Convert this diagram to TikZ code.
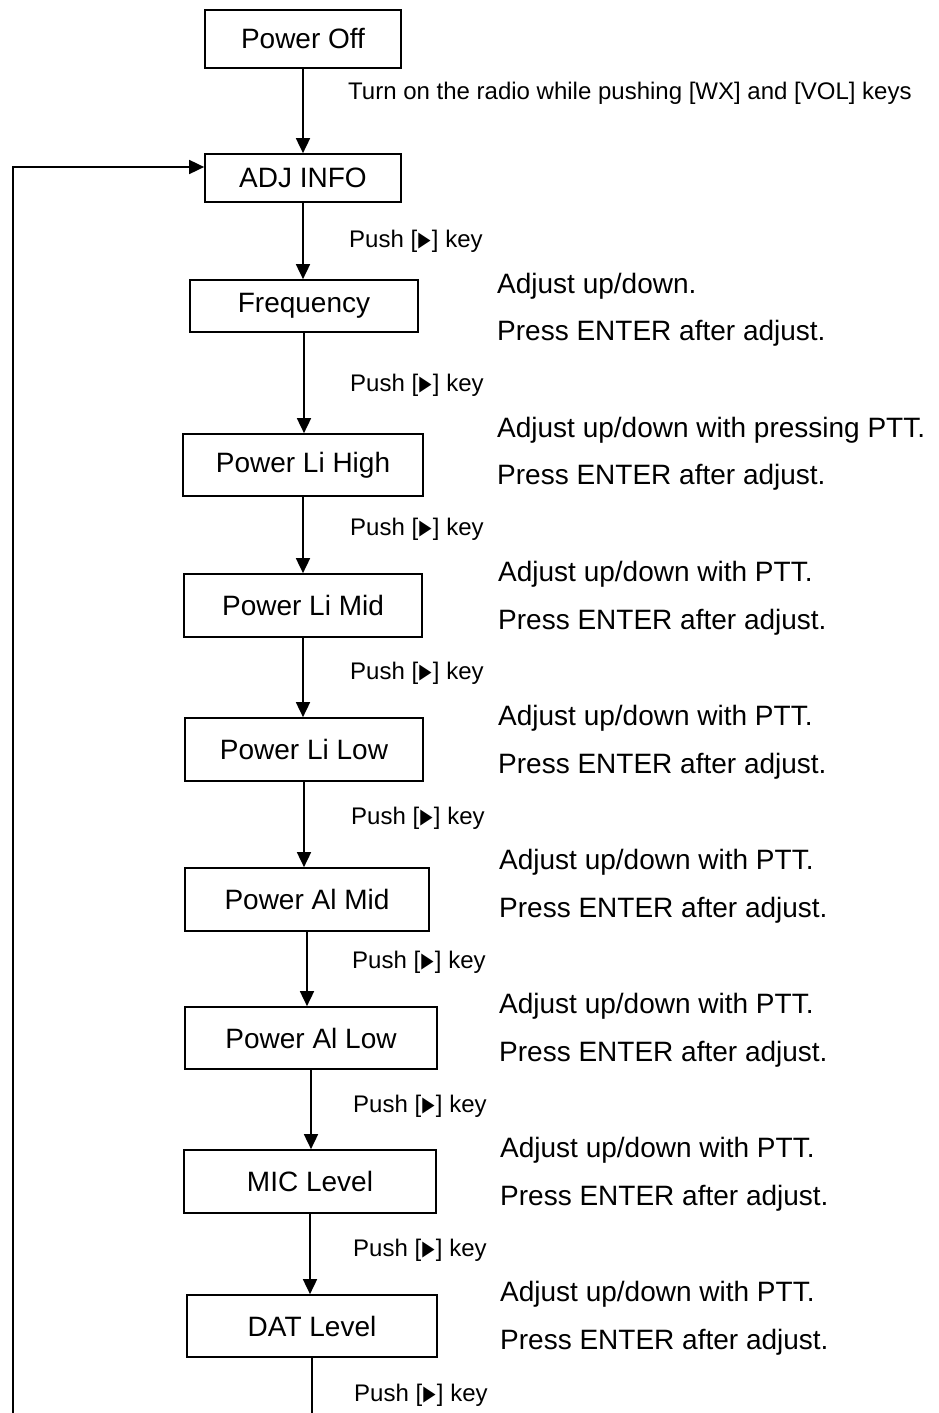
\documentclass[tikz,border=0pt]{standalone}
\usepackage{fontspec}
\setmainfont{Liberation Sans}
\newfontfamily\symfont{DejaVu Sans}
\usetikzlibrary{arrows.meta}
\newcommand{\keytri}{\hspace{1.2pt}\raisebox{0.5pt}{\scalebox{0.8}[1.05]{\symfont\fontsize{20}{20}\selectfont ▶}}\hspace{1.2pt}}
\begin{document}
\begin{tikzpicture}[x=1pt,y=-1pt,
  box/.style={draw, line width=1.7pt, inner sep=0pt, font=\fontsize{28}{30}\selectfont},
  arr/.style={line width=1.7pt, -{Triangle[width=14pt,length=15pt]}},
  ln/.style={line width=1.7pt},
  lbl/.style={anchor=west, inner sep=0pt, font=\fontsize{24}{26}\selectfont},
  side/.style={anchor=west, inner sep=0pt, font=\fontsize{28}{30}\selectfont}]
\useasboundingbox (0,0) rectangle (938,1413);

% boxes
\node[box, minimum width=196pt, minimum height=58pt] (off) at (303,39) {Power Off};
\node[box, minimum width=196pt, minimum height=48pt] (adj) at (303,178) {ADJ INFO};
\node[box, minimum width=228pt, minimum height=52pt] (freq) at (304,306) {Frequency};
\node[box, minimum width=240pt, minimum height=62pt] (plh) at (303,465) {Power Li High};
\node[box, minimum width=238pt, minimum height=63pt] (plm) at (303,605.5) {Power Li Mid};
\node[box, minimum width=238pt, minimum height=63pt] (pll) at (304,749.5) {Power Li Low};
\node[box, minimum width=244pt, minimum height=63pt] (pam) at (307,899.5) {Power Al Mid};
\node[box, minimum width=252pt, minimum height=62pt] (pal) at (311,1038) {Power Al Low};
\node[box, minimum width=252pt, minimum height=63pt] (mic) at (310,1181.5) {MIC Level};
\node[box, minimum width=250pt, minimum height=62pt] (dat) at (312,1326) {DAT Level};

% arrows
\draw[arr] (off.south) -- (off.south |- adj.north);
\draw[arr] (adj.south) -- (adj.south |- freq.north);
\draw[arr] (freq.south) -- (freq.south |- plh.north);
\draw[arr] (plh.south) -- (plh.south |- plm.north);
\draw[arr] (plm.south) -- (plm.south |- pll.north);
\draw[arr] (pll.south) -- (pll.south |- pam.north);
\draw[arr] (pam.south) -- (pam.south |- pal.north);
\draw[arr] (pal.south) -- (pal.south |- mic.north);
\draw[arr] (mic.south) -- (mic.south |- dat.north);
\coordinate (datbot) at (309,1413);
\draw[ln] (dat.south) -- (dat.south |- datbot);
\coordinate (loopbot) at (13,1413);
\draw[arr] (loopbot) |- ([yshift=11pt]adj.west);

% transition labels
\node[lbl] (t0) at (348,93) {Turn on the radio while pushing [WX] and [VOL] keys};
\node[lbl] (p1) at (349,241) {Push [\keytri] key};
\node[lbl] (p2) at (350,385) {Push [\keytri] key};
\node[lbl] (p3) at (350,529) {Push [\keytri] key};
\node[lbl] (p4) at (350,673) {Push [\keytri] key};
\node[lbl] (p5) at (351,818) {Push [\keytri] key};
\node[lbl] (p6) at (352,962) {Push [\keytri] key};
\node[lbl] (p7) at (353,1106) {Push [\keytri] key};
\node[lbl] (p8) at (353,1250) {Push [\keytri] key};
\node[lbl] (p9) at (354,1395) {Push [\keytri] key};

% side notes
\node[side] (a1) at (497,286) {Adjust up/down.};
\node[side] (e1) at (497,333) {Press ENTER after adjust.};
\node[side] (a2) at (497,430) {Adjust up/down with pressing PTT.};
\node[side] (e2) at (497,477) {Press ENTER after adjust.};
\node[side] (a3) at (498,574) {Adjust up/down with PTT.};
\node[side] (e3) at (498,622) {Press ENTER after adjust.};
\node[side] (a4) at (498,718) {Adjust up/down with PTT.};
\node[side] (e4) at (498,766) {Press ENTER after adjust.};
\node[side] (a5) at (499,862) {Adjust up/down with PTT.};
\node[side] (e5) at (499,910) {Press ENTER after adjust.};
\node[side] (a6) at (499,1006) {Adjust up/down with PTT.};
\node[side] (e6) at (499,1054) {Press ENTER after adjust.};
\node[side] (a7) at (500,1150) {Adjust up/down with PTT.};
\node[side] (e7) at (500,1198) {Press ENTER after adjust.};
\node[side] (a8) at (500,1294) {Adjust up/down with PTT.};
\node[side] (e8) at (500,1342) {Press ENTER after adjust.};
\end{tikzpicture}
\end{document}
